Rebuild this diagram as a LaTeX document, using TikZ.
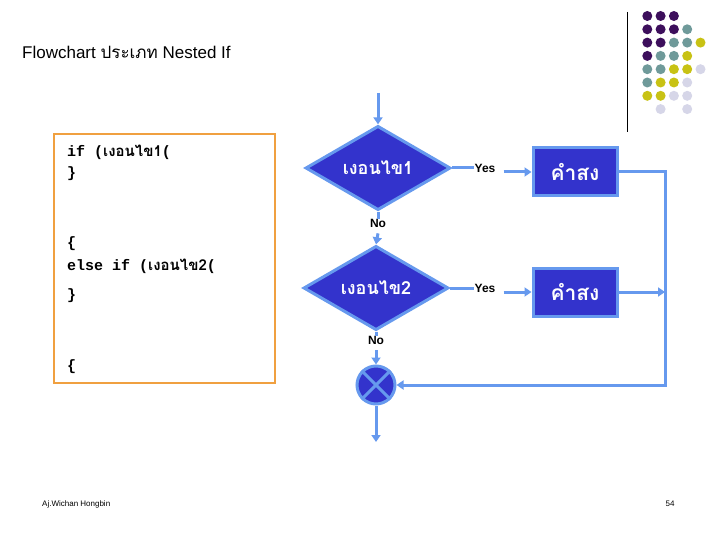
\documentclass[tikz,border=0pt]{standalone}
\usepackage{fontspec}
\setmainfont{Liberation Sans}
\newfontfamily\thaifont[Script=Thai]{Loma}
\newfontfamily\monof{Liberation Mono}
\usetikzlibrary{shapes.geometric,arrows.meta}
\definecolor{fblue}{HTML}{3333CC}
\definecolor{lblue}{HTML}{6699EE}
\definecolor{dP}{HTML}{3D0F5C}
\definecolor{dT}{HTML}{6F9A9A}
\definecolor{dY}{HTML}{C8C214}
\definecolor{dL}{HTML}{D6D6E8}
\definecolor{dN}{HTML}{FFFFFF}
\definecolor{obox}{HTML}{F0A040}
\tikzset{
 dec/.style={diamond,draw=lblue,line width=3pt,fill=fblue,minimum width=145pt,minimum height=63pt,inner sep=0pt,text=white,font=\thaifont\bfseries\fontsize{18}{18}\selectfont},
 cmd/.style={rectangle,draw=lblue,line width=3pt,fill=fblue,minimum width=84pt,minimum height=48pt,text=white,font=\thaifont\bfseries\fontsize{21}{21}\selectfont},
 conn/.style={draw=lblue,line width=3pt},
 arr/.style={conn,-{Triangle[length=7pt,width=9pt]}},
 lab/.style={font=\bfseries\fontsize{12}{12}\selectfont,inner sep=0pt},
 code/.style={anchor=west,inner sep=0pt,font=\fontsize{15}{15}\selectfont},
 dot/.style={circle,inner sep=0pt,minimum size=10pt}
}
\begin{document}
\begin{tikzpicture}[x=1pt,y=-1pt]
\useasboundingbox (0,0) rectangle (720,540);
\fill[white] (0,0) rectangle (720,540);
\node[anchor=west,inner sep=0pt,font=\fontsize{17}{17}\selectfont] (title) at (22,52) {Flowchart {\thaifont ประเภท} Nested If};
% dots
\draw[black,line width=1pt] (627,12) -- (627,132);
\foreach \row [count=\r] in {{P,P,P,N,N},{P,P,P,T,N},{P,P,T,T,Y},{P,T,T,Y,N},{T,T,Y,Y,L},{T,Y,Y,L,N},{Y,Y,L,L,N},{N,L,N,L,N}}{
 \foreach \c [count=\k] in \row {
   \node[dot,fill=d\c] (dot\r\k) at ({634+13.3*\k},{2.7+13.3*\r}) {};
 }
}
% code box
\draw[obox,line width=2pt] (54,134) rectangle (275,383);
\node[code] (c1) at (67,152) {{\monof\bfseries if (}{\thaifont\bfseries เงอนไข1}{\monof\bfseries (}};
\node[code] (c2) at (67,174) {\monof\bfseries \}};
\node[code] (c3) at (67,244) {\monof\bfseries \{};
\node[code] (c4) at (67,266) {{\monof\bfseries else if (}{\thaifont\bfseries เงอนไข2}{\monof\bfseries (}};
\node[code] (c5) at (67,296) {\monof\bfseries \}};
\node[code] (c6) at (67,367) {\monof\bfseries \{};
% flowchart
\coordinate (start) at (378,93);
\node[dec] (d1) at (378,168) {เงอนไข1};
\node[dec] (d2) at (376,288) {เงอนไข2};
\node[cmd] (b1) at (575,172) {คำสง};
\node[cmd] (b2) at (575,292) {คำสง};
\node[lab] (y1) at (485,168) {Yes};
\node[lab] (y2) at (485,288) {Yes};
\node[lab] (n1) at (378,223) {No};
\node[lab] (n2) at (376,340) {No};
\node[circle,draw=lblue,line width=3pt,fill=fblue,minimum size=38pt,inner sep=0pt] (m) at (376,385) {};
\draw[lblue,line width=3pt] (m.north west) -- (m.south east) (m.north east) -- (m.south west);
\coordinate (rt) at (665,172);
\coordinate (rb) at (665,385);
\coordinate (out) at (376,442);
\draw[arr] (start) -- (d1.north);
\draw[conn] (d1.east) -- (y1.west);
\draw[arr] (y1.east)++(8,4) -- (b1.west);
\draw[conn] (d2.east) -- (y2.west);
\draw[arr] (y2.east)++(8,4) -- (b2.west);
\draw[conn] (d1.south) -- (n1.north);
\draw[arr] (n1.south)++(0,6) -- (d2.north);
\draw[conn] (d2.south) -- (n2.north);
\draw[arr] (n2.south)++(0,6) -- (m.north);
\draw[arr] (b1.east) -- (rt) -- (rb) -- (m.east);
\draw[arr] (b2.east) -- (b2.east -| rt);
\draw[arr] (m.south) -- (out);
\node[anchor=west,inner sep=0pt,font=\fontsize{8}{8}\selectfont] (foot) at (42,504) {Aj.Wichan Hongbin};
\node[inner sep=0pt,font=\fontsize{8}{8}\selectfont] (pg) at (670,504) {54};
\end{tikzpicture}
\end{document}
